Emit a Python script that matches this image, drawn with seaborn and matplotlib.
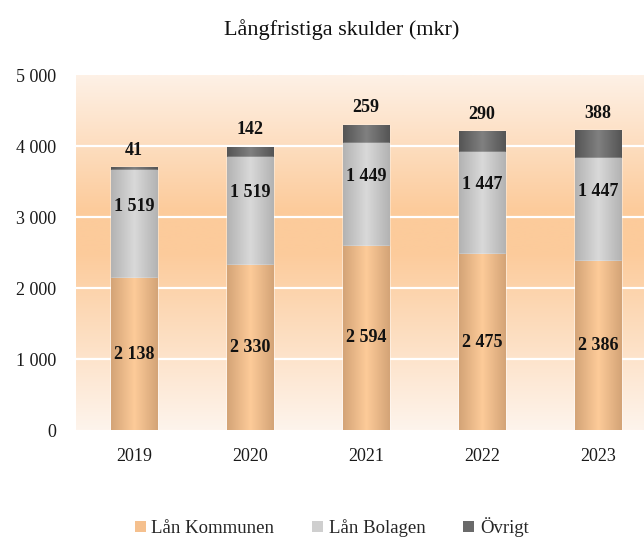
import numpy as np
import pandas as pd
import matplotlib
matplotlib.use("Agg")
import matplotlib.pyplot as plt
from matplotlib.colors import LinearSegmentedColormap
from matplotlib.patches import Patch
import seaborn as sns

# data
years = ["2019", "2020", "2021", "2022", "2023"]
lan_kommunen = [2138, 2330, 2594, 2475, 2386]
lan_bolagen = [1519, 1519, 1449, 1447, 1447]
ovrigt = [41, 142, 259, 290, 388]
series_names = ["Lån Kommunen", "Lån Bolagen", "Övrigt"]
yticks = [0, 1000, 2000, 3000, 4000, 5000]


def fmt(v):
    return f"{v:,}".replace(",", " ")


sns.set_theme(style="white")
plt.rcParams["font.family"] = ["Liberation Serif", "DejaVu Serif"]

df = pd.DataFrame({"year": years, "kommunen": lan_kommunen,
                   "bolagen": lan_bolagen, "ovrigt": ovrigt})
df["top2"] = df["kommunen"] + df["bolagen"]
df["total"] = df["top2"] + df["ovrigt"]

fig = plt.figure(figsize=(6.44, 5.39), dpi=100)
ax = fig.add_axes([0.118, 0.2022, 0.9006, 0.6586])

# background gradient
bg = LinearSegmentedColormap.from_list(
    "bg", [(0, "#fef4ec"), (0.5, "#fccb9b"), (0.62, "#fccb9b"), (1, "#fef1e6")])
grad = np.linspace(0, 1, 256).reshape(-1, 1)
ax.imshow(grad, cmap=bg, aspect="auto", origin="lower",
          extent=(-0.5, 4.5, 0, 5000), zorder=0)

# stacked bars drawn as overlapping cumulative bars
layers = [("total", "#6a6a6a", ["#555555", "#808080", "#555555"]),
          ("top2", "#cfcfcf", ["#b3b3b3", "#d9d9d9", "#b3b3b3"]),
          ("kommunen", "#f5c08e", ["#d4a477", "#fdcb99", "#d4a477"])]
shade = np.linspace(0, 1, 64).reshape(1, -1)
for i, (col, flat, stops) in enumerate(layers):
    n_before = len(ax.patches)
    sns.barplot(data=df, x="year", y=col, color=flat, width=0.4,
                saturation=1, ax=ax, zorder=2 + i * 2)
    cm = LinearSegmentedColormap.from_list(col, stops)
    for p in ax.patches[n_before:]:
        x0, y0 = p.get_x(), p.get_y()
        im = ax.imshow(shade, cmap=cm, aspect="auto",
                       extent=(x0, x0 + p.get_width(), y0, y0 + p.get_height()),
                       zorder=3 + i * 2)
        im.set_clip_path(p)

ax.set_xlim(-0.5, 4.5)
ax.set_ylim(0, 5000)
ax.set_yticks(yticks)
ax.set_yticklabels([fmt(v) for v in yticks])
for v in yticks[1:-1]:
    ax.axhline(v, color="white", lw=1.6, zorder=1)
ax.grid(False)
for s in ax.spines.values():
    s.set_visible(False)
ax.set_xlabel("")
ax.set_ylabel("")
ax.tick_params(axis="y", length=0, pad=14, labelsize=13, labelcolor="#1a1a1a")
ax.tick_params(axis="x", length=0, pad=13, labelsize=13, labelcolor="#1a1a1a")

# data labels
lbl = dict(ha="center", va="center", fontsize=13, fontweight="bold",
           color="#111111", zorder=10)
for i in range(len(years)):
    ax.text(i, lan_kommunen[i] / 2, fmt(lan_kommunen[i]), **lbl)
    ax.annotate(fmt(lan_bolagen[i]), (i, lan_kommunen[i] + lan_bolagen[i] / 2),
                xytext=(0, 13), textcoords="offset points", **lbl)
    ax.annotate(fmt(ovrigt[i]), (i, df["total"][i]), xytext=(0, 12),
                textcoords="offset points", **lbl)

fig.text(0.53, 0.945, "Långfristiga skulder (mkr)", ha="center", va="center",
         fontsize=16, color="#111111")

handles = [Patch(facecolor=c[1], edgecolor="none") for c in layers[::-1]]
fig.legend(handles, series_names, loc="center", bbox_to_anchor=(0.515, 0.022),
           ncol=3, frameon=False, fontsize=13.5, handlelength=0.6,
           handleheight=0.6, handletextpad=0.3, columnspacing=2.0)

fig.savefig("out.png", dpi=100)
